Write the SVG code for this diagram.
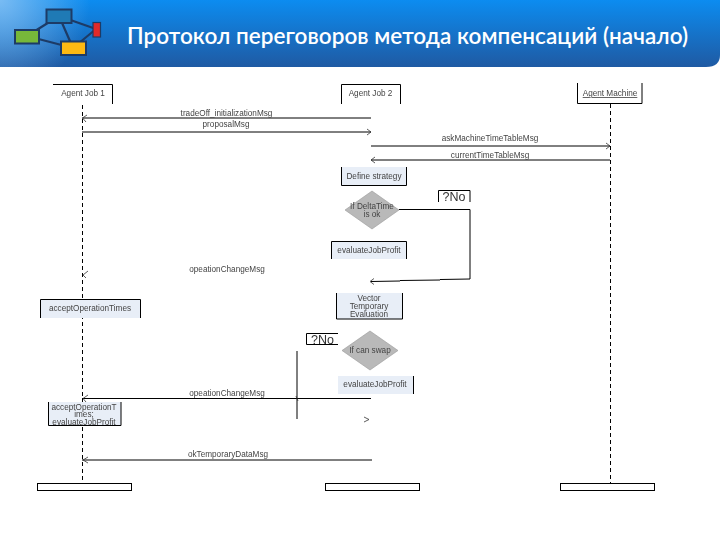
<svg xmlns="http://www.w3.org/2000/svg" width="720" height="540" viewBox="0 0 720 540">
<style>
.t{font-family:"Liberation Sans",Arial,sans-serif;font-size:8.200px;fill:#444;text-anchor:middle;filter:url(#soft)}
.n{font-family:"Liberation Sans",Arial,sans-serif;font-size:12.500px;fill:#333;text-anchor:middle;filter:url(#soft)}
.l{fill:none;stroke:#000;stroke-width:1}
.d{fill:none;stroke:#000;stroke-width:1;stroke-dasharray:4 3}
.a{fill:none;stroke:#333;stroke-width:.8}
.f{fill:#e8eef7}
.g{fill:#b9b9b9;stroke:#999;stroke-width:.6}
.w{fill:#fff;stroke:#000;stroke-width:1}
.k{stroke:#1d3b66;stroke-width:2.200;fill:none}
</style>
<defs>
<filter id="soft" x="-5%" y="-30%" width="110%" height="160%"><feGaussianBlur stdDeviation=".3"/></filter>
<linearGradient id="h" x1="0" y1="0" x2="0" y2="1"><stop offset="0" stop-color="#0c8cf0"/><stop offset="1" stop-color="#1f5aa3"/></linearGradient>
<radialGradient id="hl" gradientUnits="userSpaceOnUse" cx="0" cy="0" r="90"><stop offset="0" stop-color="#8cc4f4" stop-opacity=".85"/><stop offset="1" stop-color="#8cc4f4" stop-opacity="0"/></radialGradient>
</defs>
<rect width="720" height="540" fill="#fff"/>
<g id="header">
<path d="M0 0H720V55Q720 67 706 67H0Z" fill="url(#h)"/>
<path d="M0 0H120V67H0Z" fill="url(#hl)"/>
<path class="k" d="M59 16L27 36M59 16L73 48M59 16L96 29M27 36L73 48M73 48L96 29"/>
<rect x="46.500" y="9.500" width="25" height="13.500" fill="#1f7ab5" stroke="#1d3b66" stroke-width="2"/>
<rect x="15" y="30" width="24" height="13.500" fill="#77b83a" stroke="#1d3b66" stroke-width="2"/>
<rect x="61" y="41.500" width="25" height="13.500" fill="#fdb913" stroke="#1d3b66" stroke-width="2"/>
<rect x="93" y="22.500" width="7.500" height="14.500" fill="#e02a2a" stroke="#1d3b66" stroke-width="1.200"/>
<text x="127" y="44" font-family="Lato,'Open Sans',sans-serif" font-weight="600" font-size="22.500" fill="#fff" textLength="561" lengthAdjust="spacing">Протокол переговоров метода компенсаций (начало)</text>
</g>
<g id="connectors">
<path class="d" d="M82.500 105V483"/>
<path class="d" d="M610.500 104V483"/>
<path class="l" d="M82 118H371M82 132H371M371 146H610M371 160H610"/>
<path class="l" d="M399 209.500H470V279"/>
<path class="l" d="M470 279L440 279.500" stroke-width=".8"/>
<path class="l" d="M440 280L400 280.500" stroke="#555"/>
<path class="l" d="M400 281L371 281.500" stroke="#222"/>
<path class="l" d="M297 351V419"/>
<path class="l" d="M82 398.500H371M82 460H372"/>
<path class="a" d="M87 115L82.500 118L86 122M367 129L371 132L367 135M606 143L610 146L606 149M375 157L371 160L375 163M374 278.500L370 281.500L374 284.500M88 271L83 275L86 278M88 395L83 398.500L86 402M296 396L298 401M364 417L369 419.500L364 422M88 457L83 460L88 463"/>
</g>
<g id="agent-job-1">
<path class="l" d="M53 84.500H112.500V104"/>
<text class="t" x="83" y="96">Agent Job 1</text>
</g>
<g id="agent-job-2">
<path class="l" d="M341.500 104V84.500H400.500V104"/>
<text class="t" x="370.500" y="96">Agent Job 2</text>
</g>
<g id="agent-machine">
<path class="l" d="M577.500 83V103.500H642V83"/>
<text class="t" x="610" y="96" text-decoration="underline">Agent Machine</text>
</g>
<g id="msg-labels">
<text class="t" x="226.500" y="115.500">tradeOff_initializationMsg</text>
<text class="t" x="226" y="127">proposalMsg</text>
<text class="t" x="490" y="141">askMachineTimeTableMsg</text>
<text class="t" x="490" y="157.500">currentTimeTableMsg</text>
<text class="t" x="227" y="272">opeationChangeMsg</text>
<text class="t" x="227" y="395.500">opeationChangeMsg</text>
<text class="t" x="228" y="457">okTemporaryDataMsg</text>
</g>
<g id="define-strategy">
<rect class="f" x="341" y="167" width="65" height="19"/>
<path class="l" d="M341.500 167V185.500H406.500V167"/>
<text class="t" x="374" y="179">Define strategy</text>
</g>
<g id="if-deltatime">
<path class="g" d="M372 191L399 210L372 229L345 210Z"/>
<text class="t" x="372" y="209">If DeltaTime</text>
<text class="t" x="372" y="217">is ok</text>
</g>
<g id="no-1">
<path class="l" d="M438.500 202V190.500H470V202"/>
<text class="n" x="454" y="201">?No</text>
</g>
<g id="evaluate-1">
<rect class="f" x="331" y="241" width="76" height="18"/>
<path class="l" d="M331.500 259V241.500H406.500V259"/>
<text class="t" x="369" y="253">evaluateJobProfit</text>
</g>
<g id="vector">
<rect class="f" x="336" y="293" width="67" height="26"/>
<path class="l" d="M336.500 293V319H402.500V293"/>
<text class="t" x="369" y="301">Vector</text>
<text class="t" x="369" y="309">Temporary</text>
<text class="t" x="369" y="317">Evaluation</text>
</g>
<g id="no-2">
<path class="l" d="M338 333.500H306.500V344.500H338"/>
<text class="n" x="322.500" y="343.500">?No</text>
</g>
<g id="if-can-swap">
<path class="g" d="M370 331L398 350.500L370 370L342 350.500Z"/>
<text class="t" x="370" y="353">If can swap</text>
</g>
<g id="evaluate-2">
<rect class="f" x="338" y="376" width="76" height="18"/>
<path class="l" d="M413.500 376V394"/>
<text class="t" x="375" y="387">evaluateJobProfit</text>
</g>
<g id="accept-timer">
<rect class="f" x="40" y="299" width="101" height="19"/>
<path class="l" d="M40.500 318V299.500H140.500V318"/>
<text class="t" x="90" y="311">acceptOperationTimes</text>
</g>
<g id="accept-evaluate">
<rect class="f" x="48" y="402" width="73" height="24"/>
<path class="l" d="M48.500 402V425.500H121V402"/>
<text class="t" x="84" y="409.500">acceptOperationT</text>
<text class="t" x="84" y="417">imes;</text>
<text class="t" x="84" y="424.500">evaluateJobProfit</text>
</g>
<g id="end-1"><rect class="w" x="37.500" y="483.500" width="94" height="7"/></g>
<g id="end-2"><rect class="w" x="325.500" y="483.500" width="94" height="7"/></g>
<g id="end-3"><rect class="w" x="560.500" y="483.500" width="94" height="7"/></g>
</svg>
